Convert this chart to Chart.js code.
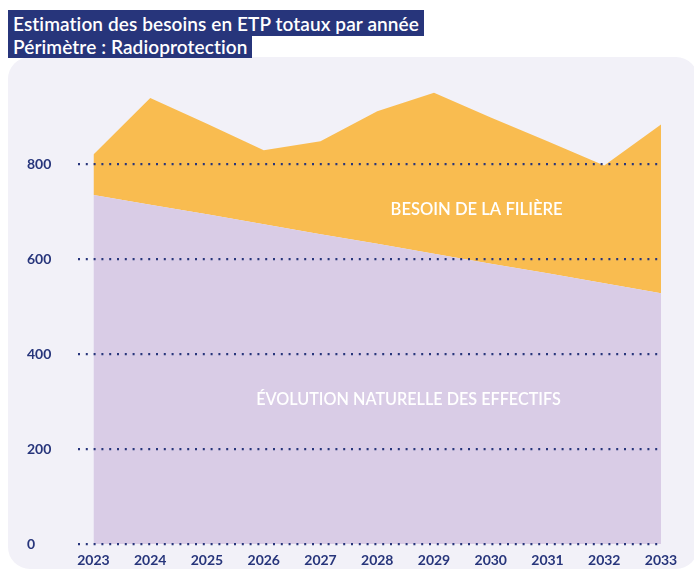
<!DOCTYPE html>
<html>
<head>
<meta charset="utf-8">
<script src="https://cdn.jsdelivr.net/npm/chart.js@4.4.0/dist/chart.umd.min.js"></script>
<style>
  html, body { margin: 0; padding: 0; background: #ffffff; width: 694px; height: 571px; overflow: hidden; }
  #panel { position: absolute; left: 8px; top: 57px; width: 690px; height: 512px; background: #f2f1f8; border-radius: 22px; }
  #title { position: absolute; left: 8px; top: 10px; font-family: Lato, sans-serif; font-size: 19px; font-weight: 600; color: #ffffff; line-height: 21px; letter-spacing: 0.1px; }
  #title span { background: #27357b; display: inline-block; padding: 1px 5px 0 5px; }
  #t1 { height: 25px; line-height: 26px; }
  #t2 { height: 21px; line-height: 20px; }
  canvas { position: absolute; left: 0; top: 0; }
</style>
</head>
<body>
<div id="panel"></div>
<div id="title"><span id="t1">Estimation des besoins en ETP totaux par année</span><br><span id="t2">Périmètre : Radioprotection</span></div>
<canvas id="c" width="694" height="571"></canvas>
<script>
const years = [2023, 2024, 2025, 2026, 2027, 2028, 2029, 2030, 2031, 2032, 2033];
const evolutionNaturelle = [735, 714, 694, 673, 652, 632, 611, 590, 570, 549, 528];
const besoinTotal = [820, 939, 885, 829, 848, 911, 950, 898, 848, 797, 883];
const yTicks = [0, 200, 400, 600, 800];
const labelBesoin = "BESOIN DE LA FILIÈRE";
const labelEvolution = "ÉVOLUTION NATURELLE DES EFFECTIFS";

const navy = '#27357b';

const areaLabels = {
  id: 'areaLabels',
  afterDatasetsDraw(chart) {
    const {ctx, scales: {x, y}} = chart;
    ctx.save();
    ctx.fillStyle = '#ffffff';
    ctx.textAlign = 'center';
    ctx.textBaseline = 'middle';
    ctx.font = '600 16.6px Lato, sans-serif';
    ctx.fillText(labelBesoin, x.getPixelForValue(2029.75), y.getPixelForValue(704));
    ctx.font = '600 16.2px Lato, sans-serif';
    ctx.fillText(labelEvolution, x.getPixelForValue(2028.55), y.getPixelForValue(304));
    ctx.restore();
  }
};

new Chart(document.getElementById('c'), {
  type: 'line',
  data: {
    datasets: [
      {
        label: 'Évolution naturelle des effectifs',
        data: years.map((yr, i) => ({x: yr, y: evolutionNaturelle[i]})),
        fill: 'origin',
        backgroundColor: '#d9cce6',
        borderWidth: 0,
        pointRadius: 0,
        tension: 0
      },
      {
        label: 'Besoin de la filière',
        data: years.map((yr, i) => ({x: yr, y: besoinTotal[i]})),
        fill: '-1',
        backgroundColor: '#f9bc50',
        borderWidth: 0,
        pointRadius: 0,
        tension: 0
      }
    ]
  },
  options: {
    responsive: false,
    animation: false,
    layout: { padding: { left: 27, top: 69, right: 33, bottom: 0 } },
    plugins: { legend: { display: false }, tooltip: { enabled: false } },
    scales: {
      x: {
        type: 'linear',
        min: 2022.727,
        max: 2033,
        afterBuildTicks: s => { s.ticks = years.map(v => ({value: v})); },
        afterFit: s => { s.height = 27; },
        grid: { display: false, drawTicks: false },
        border: { display: false },
        ticks: {
          color: navy,
          padding: 8,
          maxRotation: 0,
          autoSkip: false,
          font: { family: 'Lato, sans-serif', size: 14, weight: 'bold' },
          callback: v => String(v)
        }
      },
      y: {
        min: 0,
        max: 1000,
        afterBuildTicks: s => { s.ticks = yTicks.map(v => ({value: v})); },
        afterFit: s => { s.width = 51; },
        grid: { color: navy, lineWidth: 2.2, drawTicks: false, z: 1 },
        border: { display: false, dash: [2, 5.8] },
        ticks: {
          color: navy,
          crossAlign: 'far',
          padding: 0,
          font: { family: 'Lato, sans-serif', size: 14, weight: 'bold' }
        }
      }
    }
  },
  plugins: [areaLabels]
});
</script>
</body>
</html>
